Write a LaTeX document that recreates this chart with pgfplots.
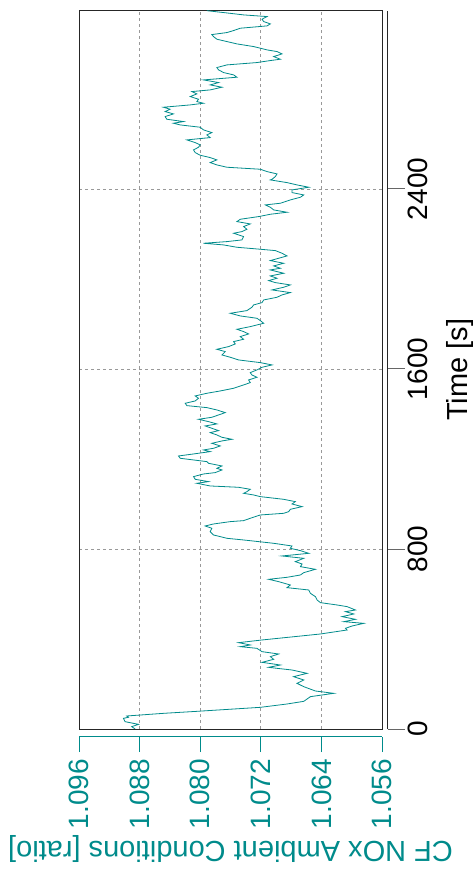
\documentclass[border=0pt]{standalone}
\usepackage{fontspec}
\setmainfont{Liberation Sans}
\usepackage{pgfplots}
\pgfplotsset{compat=1.18}
\usepackage{pgfplotstable}
\definecolor{tealc}{HTML}{008B8B}
\pgfplotstableread{
t cf
0 1.08859
10.4 1.08904
20.7 1.08815
32.6 1.08992
47.4 1.09014
51.9 1.08948
57.8 1.08970
69.6 1.08485
78.5 1.08044
96.3 1.07206
111.1 1.06854
122.9 1.06633
143.7 1.06545
158.5 1.06237
168.9 1.06479
188.1 1.06633
203.0 1.06722
217.8 1.06633
232.6 1.06766
247.4 1.06589
262.2 1.06788
269.6 1.06986
274.1 1.07096
284.4 1.06942
296.3 1.07184
309.6 1.07030
321.5 1.07074
333.3 1.06964
343.7 1.07184
358.5 1.07251
365.9 1.07471
373.3 1.07339
383.7 1.07493
395.6 1.07184
422.2 1.06413
440.0 1.06060
447.4 1.06082
457.8 1.05994
469.6 1.05840
477.0 1.06104
487.4 1.05950
499.3 1.06127
511.1 1.05972
521.5 1.06082
528.9 1.05950
543.7 1.06060
551.1 1.06193
561.5 1.06413
573.3 1.06457
588.1 1.06479
603.0 1.06545
617.8 1.06567
628.1 1.06854
640.0 1.06810
654.8 1.06964
665.2 1.07096
674.1 1.06854
684.4 1.06677
694.8 1.06633
709.6 1.06479
721.5 1.06677
733.3 1.06655
743.7 1.06744
758.5 1.06633
768.9 1.06920
780.7 1.06567
792.6 1.06677
803.0 1.06810
813.3 1.06788
825.2 1.07030
840.0 1.07427
847.4 1.07647
862.2 1.07824
877.0 1.07868
891.9 1.07846
902.2 1.07934
911.1 1.07824
921.5 1.07603
925.9 1.07427
936.3 1.07339
951.1 1.07206
958.5 1.06898
965.9 1.06832
976.3 1.06810
988.1 1.06655
1000.0 1.06788
1010.4 1.06744
1020.7 1.06898
1032.6 1.07206
1040.0 1.07295
1047.4 1.07427
1054.8 1.07383
1065.2 1.07339
1074.1 1.07493
1080.0 1.07868
1091.9 1.08044
1099.3 1.07890
1109.6 1.08066
1121.5 1.08088
1133.3 1.07956
1139.3 1.07802
1151.1 1.07713
1158.5 1.07780
1168.9 1.07713
1180.7 1.07890
1188.1 1.07912
1195.6 1.08088
1203.0 1.08264
1213.3 1.08286
1222.2 1.08088
1232.6 1.07868
1240.0 1.07956
1247.4 1.07824
1257.8 1.07735
1269.6 1.07846
1280.0 1.07713
1287.4 1.07581
1296.3 1.07713
1306.7 1.07780
1317.0 1.07868
1325.9 1.07757
1336.3 1.07846
1346.7 1.07934
1355.6 1.07780
1365.9 1.07890
1376.3 1.08022
1385.2 1.07846
1395.6 1.07757
1405.9 1.07669
1417.8 1.07780
1428.1 1.07912
1437.0 1.08176
1447.4 1.08198
1457.8 1.08066
1469.6 1.08022
1480.0 1.08066
1491.9 1.07912
1502.2 1.07735
1514.1 1.07559
1528.9 1.07427
1539.3 1.07339
1551.1 1.07361
1563.0 1.07251
1573.3 1.07317
1583.7 1.07339
1595.6 1.07251
1607.4 1.07184
1617.8 1.07052
1628.1 1.07206
1640.0 1.07493
1651.9 1.07603
1662.2 1.07713
1677.0 1.07669
1687.4 1.07780
1699.3 1.07625
1711.1 1.07537
1721.5 1.07559
1731.9 1.07427
1743.7 1.07471
1755.6 1.07361
1765.9 1.07427
1776.3 1.07515
1788.1 1.07339
1803.0 1.07162
1814.8 1.07206
1825.2 1.07251
1835.6 1.07471
1847.4 1.07603
1859.3 1.07383
1874.1 1.07317
1884.4 1.07295
1894.8 1.07184
1906.7 1.07162
1918.5 1.06986
1928.9 1.06920
1939.3 1.06810
1951.1 1.07052
1963.0 1.06898
1973.3 1.06810
1983.7 1.07008
1992.6 1.07096
2003.0 1.06986
2013.3 1.07074
2025.2 1.06898
2032.6 1.06986
2040.0 1.07074
2047.4 1.06942
2057.8 1.07030
2069.6 1.06898
2081.5 1.07074
2091.9 1.06964
2102.2 1.06854
2114.1 1.06920
2125.9 1.07008
2131.9 1.07206
2140.7 1.07515
2151.1 1.07691
2158.5 1.07956
2165.9 1.07647
2173.3 1.07449
2188.1 1.07427
2203.0 1.07559
2210.4 1.07449
2220.7 1.07383
2232.6 1.07427
2244.4 1.07339
2254.8 1.07515
2265.2 1.07471
2277.0 1.07229
2287.4 1.07074
2296.3 1.06854
2306.7 1.07030
2318.5 1.07074
2328.9 1.07140
2336.3 1.06942
2351.1 1.06810
2363.0 1.06677
2373.3 1.06633
2383.7 1.06788
2395.6 1.06788
2407.4 1.06567
2417.8 1.06722
2428.1 1.06854
2440.0 1.07074
2443.0 1.07052
2454.8 1.07008
2466.7 1.06986
2477.0 1.07118
2487.4 1.07206
2496.3 1.07647
2506.7 1.07780
2517.0 1.07868
2528.9 1.07780
2539.3 1.07868
2549.6 1.08000
2561.5 1.08066
2573.3 1.08088
2585.2 1.08022
2595.6 1.08000
2605.9 1.08066
2617.8 1.08176
2628.1 1.07868
2640.0 1.07912
2650.4 1.07846
2662.2 1.07956
2674.1 1.08000
2684.4 1.08264
2691.9 1.08353
2699.3 1.08220
2709.6 1.08441
2721.5 1.08463
2733.3 1.08353
2743.7 1.08463
2754.1 1.08397
2763.0 1.08485
2773.3 1.08132
2780.7 1.07956
2788.1 1.08044
2798.5 1.08022
2810.4 1.08132
2822.2 1.08044
2832.6 1.08110
2840.0 1.07868
2851.9 1.07713
2862.2 1.07868
2872.6 1.07757
2884.4 1.07956
2896.3 1.07515
2906.7 1.07559
2917.0 1.07691
2928.9 1.07757
2939.3 1.07780
2951.1 1.07647
2961.5 1.07251
2970.4 1.07074
2976.3 1.06942
2988.1 1.07030
3000.0 1.06920
3010.4 1.06986
3017.8 1.07118
3025.2 1.07206
3032.6 1.07295
3044.4 1.07515
3054.8 1.07647
3065.2 1.07780
3077.0 1.07824
3085.9 1.07846
3094.8 1.07647
3103.7 1.07559
3114.1 1.07471
3124.4 1.07118
3133.3 1.07074
3143.7 1.07162
3154.1 1.07184
3165.9 1.07118
3173.3 1.07427
3183.7 1.07691
3192.0 1.07912
}\cfdata

\pgfplotsset{
  common/.style={scale only axis, width=303bp, height=718.3bp,
    xmin=1.056, xmax=1.096, x dir=reverse, ymin=0, ymax=3192},
}
\newcommand{\tickfont}{\fontsize{28bp}{28bp}\selectfont}
\newcommand{\labfont}{\fontsize{29bp}{29bp}\selectfont}

\begin{document}
\begin{tikzpicture}
\begin{axis}[name=main, common,
  xtick={1.064,1.072,1.080,1.088}, ytick={800,1600,2400},
  xticklabels={}, yticklabels={}, tick style={draw=none},
  grid=major,
  major grid style={black!40, dash pattern=on 3bp off 3bp, line width=0.8bp},
  axis line style={black!85, line width=0.9bp}]
\addplot[tealc, line width=0.8bp, mark=none] table[x=cf, y=t] {\cfdata};
\end{axis}

\begin{axis}[common, at={(0bp,-7.7bp)}, anchor=south west,
  hide y axis, axis x line*=bottom,
  x axis line style={tealc, line width=0.9bp, -},
  xtick={1.056,1.064,1.072,1.080,1.088,1.096},
  xticklabels={1.056,1.064,1.072,1.080,1.088,1.096},
  tick align=outside, major tick length=15.3bp,
  xtick style={tealc, line width=0.9bp},
  xticklabel shift=7bp,
  xticklabel style={rotate=90, anchor=east, inner sep=0pt, font=\tickfont, text=tealc},
  xlabel={CF NOx Ambient Conditions [ratio]},
  xlabel style={at={(rel axis cs:0.5,-0.1462)}, anchor=base, rotate=180, inner sep=0pt, font=\labfont, text=tealc}]
\end{axis}

\begin{axis}[common, at={(5.7bp,0bp)}, anchor=south west,
  hide x axis, axis y line*=right,
  y axis line style={black!85, line width=0.9bp, -},
  ytick={0,800,1600,2400}, yticklabels={0,800,1600,2400},
  tick align=outside, major tick length=17bp,
  ytick style={black!60, line width=0.9bp},
  yticklabel shift=3bp,
  yticklabel style={rotate=90, anchor=north, inner sep=0pt, font=\tickfont},
  ylabel={Time [s]},
  ylabel style={at={(rel axis cs:1.262,0.5)}, anchor=base, inner sep=0pt, font=\labfont}]
\end{axis}

\pgfresetboundingbox
\path[use as bounding box] (main.south west) ++(-79bp,-146bp) rectangle ++(473bp,875bp);
\end{tikzpicture}
\end{document}
